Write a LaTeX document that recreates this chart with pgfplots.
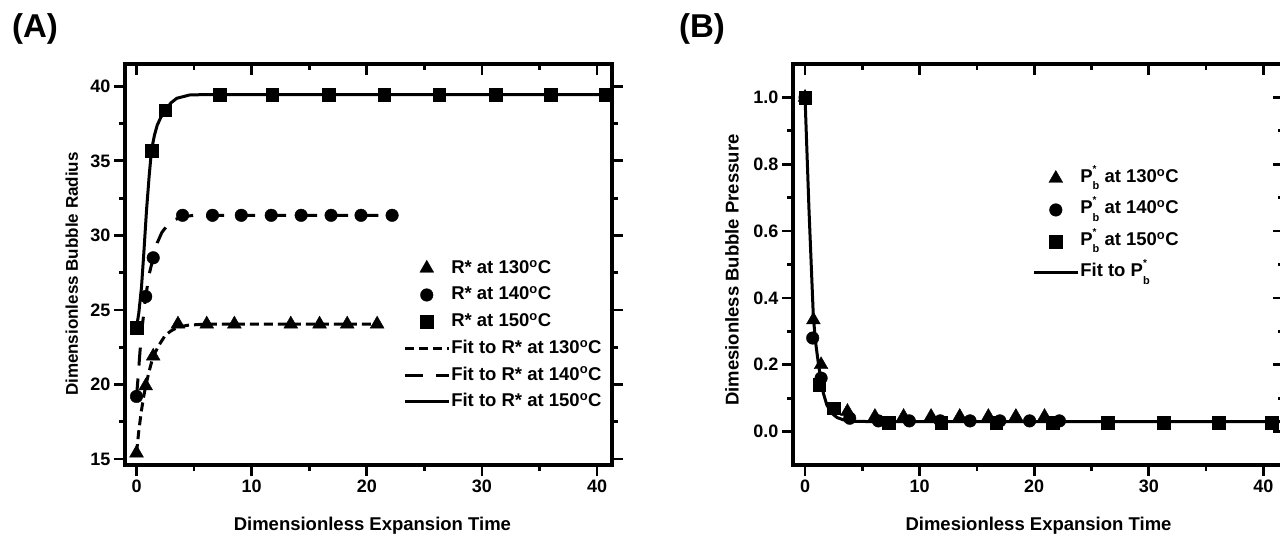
\documentclass[border=0pt]{standalone}
\usepackage{fontspec}
\setmainfont{Liberation Sans}
\usepackage{pgfplots}
\pgfplotsset{compat=1.18}
\newcommand\degC{\textsuperscript{o}C}
\newcommand\Pb{P\rlap{\raisebox{0.55em}{\fontsize{10}{10}\selectfont *}}\raisebox{-0.4em}{\fontsize{11}{11}\selectfont b}}
\pgfplotsset{
  common/.style={
    scale only axis, height=401pt,
    axis line style={line width=4.5pt},
    tick style={black, line width=2.8pt},
    major tick length=11pt, minor tick length=6pt,
    tick align=outside, minor tick num=1,
    /pgf/number format/assume math mode=true,
    tick label style={font=\fontsize{18}{20}\selectfont\bfseries},
    label style={font=\fontsize{18.5}{20}\selectfont\bfseries},
    legend cell align=left,
    legend image code/.code={\draw[mark repeat=2,mark phase=2,#1] plot coordinates {(0pt,0pt) (22pt,0pt) (44pt,0pt)};},
  },
  over/.style={
    scale only axis, height=401pt,
    axis x line*=top, axis y line*=right,
    axis line style={line width=4.5pt},
    tick style={black, line width=2.8pt},
    major tick length=11pt, minor tick length=6pt,
    tick align=inside, minor tick num=1,
    xticklabels={}, yticklabels={},
  },
  tri/.style={only marks, mark=triangle*, mark size=8pt, black},
  cir/.style={only marks, mark=*, mark size=6.3pt, black},
  squ/.style={only marks, mark=square*, mark size=6.3pt, black},
}
\begin{document}
\begin{tikzpicture}
\useasboundingbox (0pt,0pt) rectangle (1280pt,533pt);
\node[font=\fontsize{33}{35}\selectfont\bfseries] at (35pt,504pt) {(A)};
\node[font=\fontsize{33}{35}\selectfont\bfseries] at (702pt,504pt) {(B)};
% ---------- Panel A ----------
\begin{axis}[common, at={(125pt,68pt)}, anchor=south west, width=487pt,
  xmin=-1, xmax=41.3, ymin=14.6, ymax=41.5,
  xtick={0,10,20,30,40}, ytick={15,20,25,30,35,40},
  xtick pos=bottom, ytick pos=both,
  xlabel={Dimensionless Expansion Time},
  ylabel={Dimensionless Bubble Radius},
  xlabel style={at={(axis description cs:0.508,0)}, anchor=base, yshift=-65pt},
  ylabel style={at={(axis description cs:-0.109,0.476)}, anchor=center, font=\fontsize{17}{20}\selectfont\bfseries},
  legend style={draw=none, fill=none, at={(0.571,0.516)}, anchor=north west,
    font=\fontsize{18.5}{20}\selectfont\bfseries, row sep=6.7pt, inner sep=0pt,
    nodes={inner sep=1pt, text height=14pt, text depth=4pt}},
]
\addplot[tri] coordinates {(0,15.4)(0.8,19.9)(1.45,21.9)(3.6,24.05)(6.1,24.05)(8.5,24.05)(13.4,24.05)(15.9,24.05)(18.3,24.05)(20.9,24.05)};
\addlegendentry{R* at 130\degC}
\addplot[cir] coordinates {(0,19.2)(0.8,25.9)(1.45,28.5)(4.0,31.35)(6.6,31.35)(9.1,31.35)(11.7,31.35)(14.3,31.35)(16.9,31.35)(19.5,31.35)(22.2,31.35)};
\addlegendentry{R* at 140\degC}
\addplot[squ] coordinates {(0,23.8)(1.3,35.7)(2.5,38.4)(7.25,39.45)(11.8,39.45)(16.7,39.45)(21.5,39.45)(26.3,39.45)(31.2,39.45)(36.0,39.45)(40.7,39.45)};
\addlegendentry{R* at 150\degC}
\addplot[black, line width=3pt, dash pattern=on 9pt off 5pt, mark=none] coordinates {(0,15.4)(0.2,16.9)(0.4,18.1)(0.6,19.1)(0.8,19.9)(1.1,20.9)(1.45,21.9)(2,22.7)(2.5,23.3)(3,23.6)(3.6,23.85)(4.5,23.98)(6,24.05)(21,24.05)};
\addlegendentry{Fit to R* at 130\degC}
\addplot[black, line width=3pt, dash pattern=on 18pt off 13pt, mark=none] coordinates {(0,19.2)(0.15,20.6)(0.3,22.2)(0.5,23.9)(0.8,25.9)(1.1,27.4)(1.45,28.5)(1.8,29.5)(2.2,30.2)(2.7,30.7)(3.3,31.05)(4,31.25)(5,31.35)(21,31.35)};
\addlegendentry{Fit to R* at 140\degC}
\addplot[black, line width=3pt, mark=none] coordinates {(0,23.8)(0.2,24.8)(0.43,26.5)(0.65,29.0)(0.87,31.7)(1.1,34.0)(1.3,35.7)(1.55,36.7)(1.8,37.4)(2.1,37.9)(2.5,38.4)(3,38.9)(3.5,39.2)(4.6,39.42)(6,39.45)(41.3,39.45)};
\addlegendentry{Fit to R* at 150\degC}
\end{axis}
\begin{axis}[over, at={(125pt,68pt)}, anchor=south west, width=487pt,
  xmin=-1, xmax=41.3, ymin=14.6, ymax=41.5,
  xtick={0,10,20,30,40}, ytick=\empty]
\end{axis}
% ---------- Panel B ----------
\begin{axis}[common, at={(793pt,68pt)}, anchor=south west, width=491pt,
  xmin=-1.05, xmax=41.8, ymin=-0.1, ymax=1.1,
  xtick={0,10,20,30,40}, ytick={0,0.2,0.4,0.6,0.8,1.0},
  yticklabel style={/pgf/number format/.cd, fixed, fixed zerofill, precision=1},
  xtick pos=bottom, ytick pos=left,
  xlabel={Dimesionless Expansion Time},
  ylabel={Dimesionless Bubble Pressure},
  xlabel style={at={(axis description cs:0.5,0)}, anchor=base, yshift=-65pt},
  ylabel style={at={(axis description cs:-0.124,0.486)}, anchor=center},
  legend style={draw=none, fill=none, at={(0.487,0.745)}, anchor=north west,
    font=\fontsize{18.5}{20}\selectfont\bfseries, row sep=7.5pt, inner sep=0pt,
    nodes={inner sep=1pt, text height=15pt, text depth=7pt}},
]
\addplot[tri] coordinates {(0,1.0)(0.73,0.334)(1.4,0.2)(3.7,0.06)(6.1,0.045)(8.6,0.045)(11.0,0.045)(13.5,0.045)(16.0,0.045)(18.4,0.045)(20.9,0.045)};
\addlegendentry{\Pb\ at 130\degC}
\addplot[cir] coordinates {(0,1.0)(0.67,0.28)(1.4,0.16)(3.9,0.04)(6.4,0.032)(9.1,0.032)(11.8,0.032)(14.4,0.032)(17.0,0.032)(19.6,0.032)(22.2,0.032)};
\addlegendentry{\Pb\ at 140\degC}
\addplot[squ] coordinates {(0,1.0)(1.25,0.14)(2.5,0.07)(7.3,0.027)(11.9,0.027)(16.7,0.027)(21.6,0.027)(26.4,0.027)(31.3,0.027)(36.1,0.027)(40.7,0.027)};
\addlegendentry{\Pb\ at 150\degC}
\addplot[black, line width=3pt, mark=none] coordinates {(0,1.0)(0.35,0.66)(0.73,0.34)(0.95,0.26)(1.16,0.205)(1.4,0.15)(1.6,0.115)(1.9,0.08)(2.33,0.055)(2.8,0.042)(3.35,0.035)(4.2,0.031)(5.5,0.03)(42,0.03)};
\addlegendentry{Fit to \Pb}
\end{axis}
\begin{axis}[over, at={(793pt,68pt)}, anchor=south west, width=491pt,
  xmin=-1.05, xmax=41.8, ymin=-0.1, ymax=1.1,
  xtick={0,10,20,30,40}, ytick={0,0.2,0.4,0.6,0.8,1.0}]
\end{axis}
\end{tikzpicture}
\end{document}
